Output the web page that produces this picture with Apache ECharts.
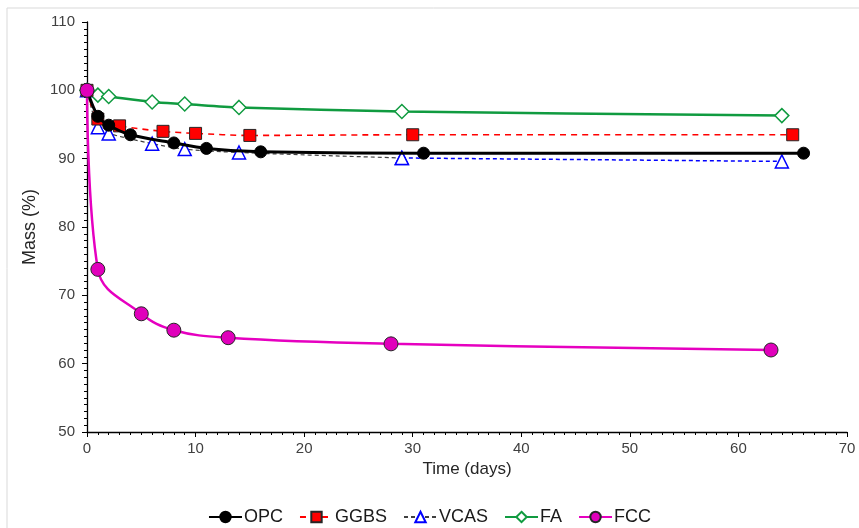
<!DOCTYPE html>
<html>
<head>
<meta charset="utf-8">
<script src="https://cdn.jsdelivr.net/npm/echarts@6/dist/echarts.min.js"></script>
<style>html,body{margin:0;padding:0;background:#fff;}#c{width:859px;height:528px;}</style>
</head>
<body>
<div id="c"></div>
<script>
const opcX = [0, 1, 2, 4, 8, 11, 16, 31, 66];
const opcY = [100, 96.2, 94.9, 93.5, 92.3, 91.5, 91.0, 90.8, 90.8];
const ggbsX = [0, 1, 3, 7, 10, 15, 30, 65];
const ggbsY = [100, 95.8, 94.8, 94.0, 93.7, 93.4, 93.5, 93.5];
const vcasX = [0, 1, 2, 6, 9, 14, 29, 64];
const vcasY = [100, 94.6, 93.7, 92.2, 91.4, 90.9, 90.1, 89.6];
const faX = [0, 1, 2, 6, 9, 14, 29, 64];
const faY = [100, 99.3, 99.1, 98.3, 98.0, 97.5, 96.9, 96.3];
const fccX = [0, 1, 5, 8, 13, 28, 63];
const fccY = [100, 73.8, 67.3, 64.9, 63.8, 62.9, 62.0];
const seriesNames = ['OPC', 'GGBS', 'VCAS', 'FA', 'FCC'];
const xTitle = 'Time (days)';
const yTitle = 'Mass (%)';

const pairs = (xs, ys) => xs.map((x, i) => [x, ys[i]]);
const vcasAll = pairs(vcasX, vcasY);
const vcasHead = vcasAll.slice(0, vcasAll.length - 1);
const vcasTail = vcasAll.slice(vcasAll.length - 2);

const font = 'Arial, "Liberation Sans", sans-serif';
const chart = echarts.init(document.getElementById('c'));
chart.setOption({
  animation: false,
  backgroundColor: '#fff',
  textStyle: { fontFamily: font },
  graphic: [{
    type: 'rect', z: -1, silent: true,
    shape: { x: 7, y: 8, width: 880, height: 560 },
    style: { fill: 'none', stroke: '#d9d9d9', lineWidth: 1 }
  }],
  grid: { left: 87, right: 12, top: 22, bottom: 96 },
  legend: {
    data: seriesNames,
    top: 503,
    left: 'center',
    itemWidth: 33,
    itemHeight: 13,
    itemGap: 16,
    textStyle: { fontSize: 18, color: '#1a1a1a', fontFamily: font, padding: [0, 0, 0, -3] }
  },
  xAxis: {
    type: 'value', min: 0, max: 70, interval: 10,
    name: xTitle, nameLocation: 'middle', nameGap: 27,
    nameTextStyle: { fontSize: 17, color: '#262626' },
    axisLine: { show: true, onZero: false, lineStyle: { color: '#000', width: 1.3 } },
    axisTick: { show: true, inside: false, length: 5, lineStyle: { color: '#000' } },
    minorTick: { show: true, splitNumber: 10, length: 3, lineStyle: { color: '#000' } },
    splitLine: { show: false },
    axisLabel: { fontSize: 15, color: '#404040', margin: 9 }
  },
  yAxis: {
    type: 'value', min: 50, max: 110, interval: 10,
    name: yTitle, nameLocation: 'middle', nameGap: 47,
    nameTextStyle: { fontSize: 18, color: '#262626' },
    axisLine: { show: true, onZero: false, lineStyle: { color: '#000', width: 1.3 } },
    axisTick: { show: true, inside: false, length: 5, lineStyle: { color: '#000' } },
    minorTick: { show: true, splitNumber: 10, length: 3, lineStyle: { color: '#000' } },
    splitLine: { show: false },
    axisLabel: { fontSize: 15, color: '#404040', margin: 12 }
  },
  series: [
    {
      name: 'VCAS', type: 'line', data: vcasHead, smooth: 0.3, z: 3,
      symbol: 'triangle', symbolSize: 13,
      lineStyle: { color: '#404040', width: 1.2, type: [4, 3] },
      itemStyle: { color: '#fff', borderColor: '#0000ff', borderWidth: 1.5 }
    },
    {
      name: 'VCAS_tail', type: 'line', data: vcasTail, z: 3,
      symbol: 'triangle', symbolSize: 13,
      lineStyle: { color: '#0000ff', width: 1.5, type: [4, 3] },
      itemStyle: { color: '#fff', borderColor: '#0000ff', borderWidth: 1.5 }
    },
    {
      name: 'FA', type: 'line', data: pairs(faX, faY), smooth: 0.3, z: 3,
      symbol: 'diamond', symbolSize: 14,
      lineStyle: { color: '#109b40', width: 2.5 },
      itemStyle: { color: '#fff', borderColor: '#109b40', borderWidth: 1.5 }
    },
    {
      name: 'GGBS', type: 'line', data: pairs(ggbsX, ggbsY), smooth: 0.3, z: 4,
      symbol: 'rect', symbolSize: 12,
      lineStyle: { color: '#ff0000', width: 1.6, type: [6, 5] },
      itemStyle: { color: '#ff0000', borderColor: '#262626', borderWidth: 1 }
    },
    {
      name: 'OPC', type: 'line', data: pairs(opcX, opcY), smooth: 0.3, z: 5,
      symbol: 'circle', symbolSize: 12,
      lineStyle: { color: '#000', width: 3 },
      itemStyle: { color: '#000', borderColor: '#000', borderWidth: 1 }
    },
    {
      name: 'FCC', type: 'line', data: pairs(fccX, fccY), smooth: 0.4, z: 6,
      symbol: 'circle', symbolSize: 14,
      lineStyle: { color: '#e600c0', width: 2.5 },
      itemStyle: { color: '#e000bb', borderColor: '#262626', borderWidth: 1 }
    }
  ]
});
</script>
</body>
</html>
